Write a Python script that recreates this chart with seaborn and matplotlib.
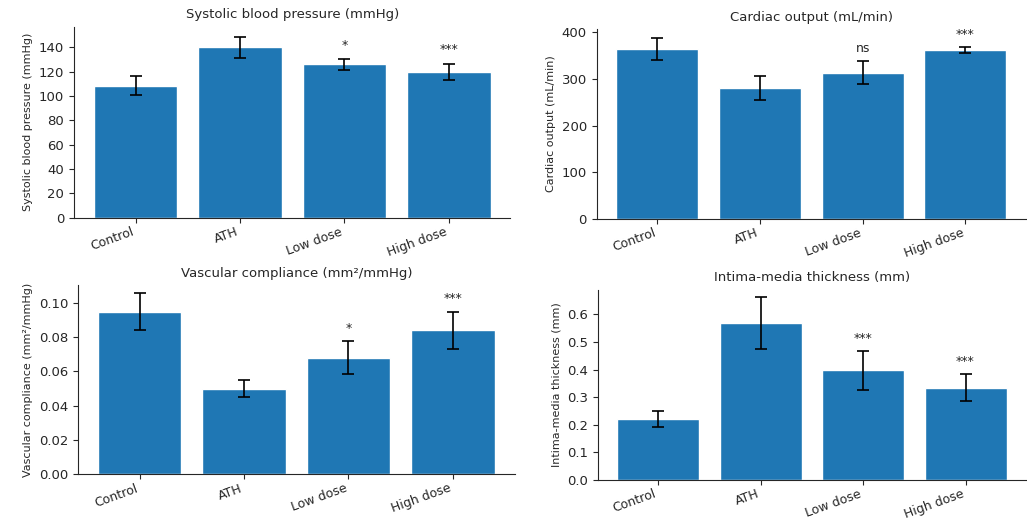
import matplotlib
matplotlib.use("Agg")
import matplotlib.pyplot as plt
from matplotlib.ticker import MultipleLocator
import seaborn as sns

groups = ["Control", "ATH", "Low dose", "High dose"]

sbp_mean = [108.5, 140, 126, 120]
sbp_err = [7.7, 8.7, 4.5, 6.5]
sbp_sig = ["", "", "*", "***"]

co_mean = [365, 281, 314, 362]
co_err = [24, 26, 24, 6]
co_sig = ["", "", "ns", "***"]

vc_mean = [0.095, 0.050, 0.068, 0.084]
vc_err = [0.011, 0.005, 0.0095, 0.011]
vc_sig = ["", "", "*", "***"]

imt_mean = [0.22, 0.568, 0.397, 0.335]
imt_err = [0.028, 0.095, 0.072, 0.05]
imt_sig = ["", "", "***", "***"]

panels = [
    ("Systolic blood pressure (mmHg)", "Systolic blood pressure (mmHg)", sbp_mean, sbp_err, sbp_sig, 157, 6, 20),
    ("Cardiac output (mL/min)", "Cardiac output (mL/min)", co_mean, co_err, co_sig, 407, 14, 100),
    ("Vascular compliance (mm\u00b2/mmHg)", "Vascular compliance (mm\u00b2/mmHg)", vc_mean, vc_err, vc_sig, 0.1105, 0.004, 0.02),
    ("Intima-media thickness (mm)", "Intima-media thickness (mm)", imt_mean, imt_err, imt_sig, 0.69, 0.02, 0.1),
]

sns.set_style("ticks")

fig = plt.figure(figsize=(10.27, 5.21), dpi=100)
rects = [
    [0.072, 0.582, 0.425, 0.367],
    [0.581, 0.580, 0.418, 0.364],
    [0.076, 0.090, 0.425, 0.363],
    [0.582, 0.079, 0.417, 0.365],
]

for rect, (title, ylabel, mean, err, sig, ytop, pad, step) in zip(rects, panels):
    ax = fig.add_axes(rect)
    sns.barplot(x=groups, y=mean, color="#1f77b4", saturation=1, width=0.8,
                errorbar=None, ax=ax)
    ax.errorbar(range(len(groups)), mean, yerr=err, fmt="none", ecolor="black",
                elinewidth=1.2, capsize=4, capthick=1.2)
    for i, s in enumerate(sig):
        if s:
            ax.text(i, mean[i] + err[i] + pad, s, ha="center", va="bottom", fontsize=9)
    ax.set_xlim(-0.59, 3.59)
    ax.set_ylim(0, ytop)
    ax.yaxis.set_major_locator(MultipleLocator(step))
    ax.set_title(title, fontsize=9.5)
    ax.set_ylabel(ylabel, fontsize=8)
    ax.tick_params(axis="y", labelsize=9.5)
    ax.tick_params(axis="x", labelsize=9, pad=2)
    plt.setp(ax.get_xticklabels(), rotation=20, ha="right")
    sns.despine(ax=ax)

fig.savefig("out.png", dpi=100)
